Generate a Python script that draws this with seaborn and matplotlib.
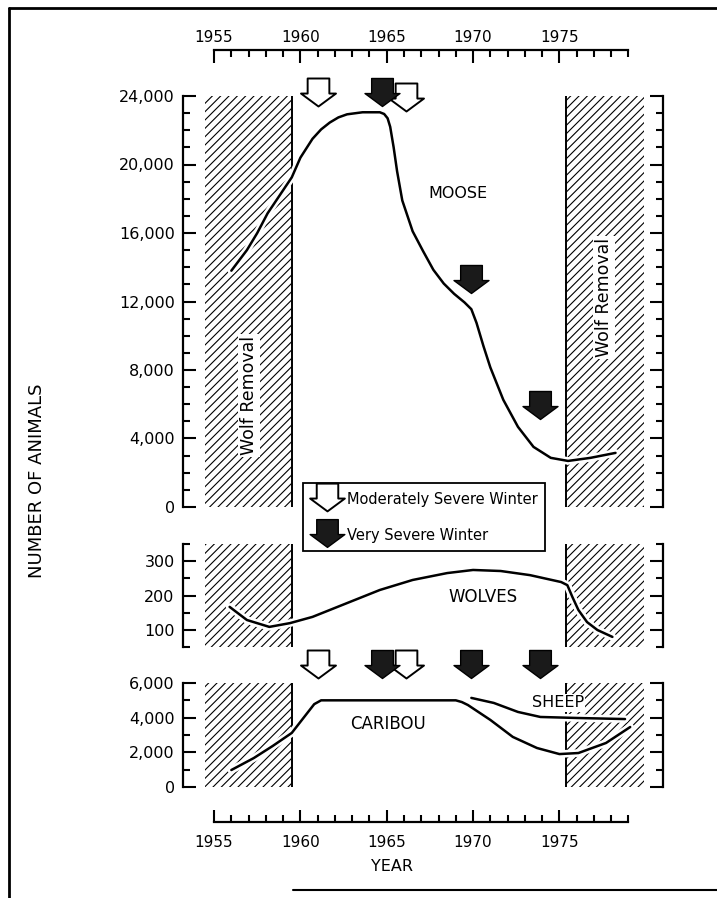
import matplotlib
matplotlib.use("Agg")
import matplotlib.pyplot as plt
import matplotlib.patheffects as pe
import seaborn as sns
from matplotlib.path import Path
from matplotlib.lines import Line2D
from matplotlib.ticker import FixedLocator, MultipleLocator, FuncFormatter

sns.set_theme(style="white", rc={"axes.edgecolor": "black", "xtick.color": "black",
                                 "ytick.color": "black", "text.color": "black",
                                 "axes.labelcolor": "black"})
plt.rcParams["font.family"] = ["DejaVu Sans"]
plt.rcParams["hatch.linewidth"] = 0.8
plt.rcParams["hatch.color"] = "black"

# --- data ---
moose_year = [1956.0, 1956.9, 1957.5, 1958.1, 1958.8, 1959.5, 1960.0, 1960.7, 1961.2,
              1961.7, 1962.2, 1962.7, 1963.6, 1964.6, 1964.85, 1965.05, 1965.2, 1965.4,
              1965.6, 1965.9, 1966.5, 1967.1, 1967.7, 1968.3, 1968.9, 1969.5, 1969.9,
              1970.2, 1970.6, 1971.0, 1971.75, 1972.6, 1973.5, 1974.5, 1975.5, 1976.8,
              1978.25]
moose_count = [13800, 15000, 16000, 17150, 18200, 19250, 20400, 21500, 22050,
               22450, 22750, 22930, 23050, 23050, 22950, 22700, 22200, 21000,
               19600, 17900, 16100, 14950, 13850, 13050, 12450, 11950, 11550,
               10750, 9400, 8150, 6260, 4680, 3510, 2870, 2690, 2870,
               3160]

wolf_year = [1955.9, 1956.9, 1958.2, 1959.4, 1960.7, 1962.7, 1964.6, 1966.5, 1968.5,
             1970.0, 1971.6, 1973.3, 1975.1, 1975.46, 1975.75, 1976.1, 1976.6, 1977.2, 1978.07]
wolf_count = [167, 129, 109, 120, 138, 178, 216, 245, 265,
              274, 271, 259, 239, 230, 196, 158, 123, 100, 80]

caribou_year = [1956.0, 1957.3, 1958.4, 1959.5, 1960.4, 1960.8, 1961.2, 1969.0, 1969.35,
                1969.7, 1971.0, 1972.3, 1973.7, 1975.0, 1976.1, 1977.7, 1979.1]
caribou_count = [980, 1670, 2370, 3120, 4270, 4780, 5000, 5000, 4900,
                 4730, 3870, 2890, 2250, 1900, 1960, 2540, 3460]

sheep_year = [1969.9, 1971.2, 1972.6, 1973.9, 1976.1, 1978.8]
sheep_count = [5140, 4850, 4330, 4040, 3980, 3920]

wolf_removal = [(1954.5, 1959.5), (1975.4, 1979.9)]

moderate_winters = [1961.0, 1966.1]
severe_winters = [1964.7, 1969.9, 1973.9]
moose_moderate_y = [24230, 23970]
moose_severe_y = [24260, 13300, 5960]
caribou_moderate_y = [7070, 7070]
caribou_severe_y = [7120, 7120, 7120]

year_ticks = [1955, 1960, 1965, 1970, 1975]

# --- layout helpers (pixel positions of the original page) ---
W, H = 717, 898
fig = plt.figure(figsize=(W / 100, H / 100), dpi=100)


def box(x0, y0, x1, y1):
    return [x0 / W, 1 - y1 / H, (x1 - x0) / W, (y1 - y0) / H]


XLIM = (1953.2, 1981.0)
LW_SPINE = 1.6

# block arrow marker
arrow = Path([(-0.31, 0.4), (0.31, 0.4), (0.31, -0.03), (0.5, -0.03), (0.0, -0.4),
              (-0.5, -0.03), (-0.31, -0.03), (-0.31, 0.4)],
             [Path.MOVETO] + [Path.LINETO] * 6 + [Path.CLOSEPOLY])
ARROW_S = 25.2 ** 2

ax_m = fig.add_axes(box(183, 96, 663, 507))
ax_w = fig.add_axes(box(183, 543.75, 663, 647.25))
ax_c = fig.add_axes(box(183, 683, 663, 787))

panels = [
    (ax_m, (0, 24000), 4000, 1000),
    (ax_w, (50, 350), 100, 50),
    (ax_c, (0, 6000), 2000, 1000),
]
for ax, ylim, major, minor in panels:
    ax.set_xlim(XLIM)
    ax.set_ylim(ylim)
    ax.set_facecolor("none")
    for s in ("top", "bottom"):
        ax.spines[s].set_visible(False)
    for s in ("left", "right"):
        ax.spines[s].set_linewidth(LW_SPINE)
        ax.spines[s].set_color("black")
    ax.set_xticks([])
    ax.yaxis.set_major_locator(MultipleLocator(major))
    ax.yaxis.set_minor_locator(MultipleLocator(minor))
    ax.yaxis.set_major_formatter(FuncFormatter(lambda v, p: f"{int(v):,}"))
    ax.tick_params(axis="y", which="both", direction="in", left=True, right=True,
                   labelleft=True, labelright=False, width=1.5, labelsize=11.5, pad=6)
    ax.tick_params(axis="y", which="major", length=9.5)
    ax.tick_params(axis="y", which="minor", length=5)
    ax.set_xlabel("")
    ax.set_ylabel("")
    ax.grid(False)

    # hatched wolf-removal periods
    for i, (a, b) in enumerate(wolf_removal):
        ax.axvspan(a, b, facecolor="none", edgecolor="black", hatch="////",
                   linewidth=0, zorder=1)
        ax.axvline(b if i == 0 else a, color="black", lw=1.4, zorder=1.5)

halo = [pe.Stroke(linewidth=5.5, foreground="white"), pe.Normal()]

sns.lineplot(x=moose_year, y=moose_count, ax=ax_m, color="black", lw=1.8,
             sort=False, estimator=None, path_effects=halo, zorder=3)
sns.lineplot(x=wolf_year, y=wolf_count, ax=ax_w, color="black", lw=1.8,
             sort=False, estimator=None, path_effects=halo, zorder=3)
sns.lineplot(x=sheep_year, y=sheep_count, ax=ax_c, color="black", lw=1.8,
             sort=False, estimator=None, path_effects=halo, zorder=3)
sns.lineplot(x=caribou_year, y=caribou_count, ax=ax_c, color="black", lw=1.8,
             sort=False, estimator=None, path_effects=halo, zorder=3)

# winter arrows
for ax, ym, ys in [(ax_m, moose_moderate_y, moose_severe_y),
                   (ax_c, caribou_moderate_y, caribou_severe_y)]:
    sns.scatterplot(x=moderate_winters, y=ym, ax=ax, marker=arrow, s=ARROW_S,
                    color="white", edgecolor="black", linewidth=1.4,
                    clip_on=False, zorder=5)
    sns.scatterplot(x=severe_winters, y=ys, ax=ax, marker=arrow, s=ARROW_S,
                    color="#1a1a1a", edgecolor="black", linewidth=1.0,
                    clip_on=False, zorder=6)

# labels inside panels
ax_m.text(1969.1, 18330, "MOOSE", ha="center", va="center", fontsize=11.5, zorder=4)
ax_w.text(1970.6, 196, "WOLVES", ha="center", va="center", fontsize=12, zorder=4)
ax_c.text(1965.1, 3640, "CARIBOU", ha="center", va="center", fontsize=12, zorder=4)
ax_c.text(1974.9, 4850, "SHEEP", ha="center", va="center", fontsize=11.5, zorder=4,
          bbox=dict(facecolor="white", edgecolor="none", pad=1))
for xx, yy in [(1957.03, 6520), (1977.6, 12250)]:
    ax_m.text(xx, yy, "Wolf Removal", rotation=90, ha="center", va="center",
              fontsize=12.5, zorder=4,
              bbox=dict(facecolor="white", edgecolor="none", pad=1.5))

# year axes (top and bottom)
ax_t = fig.add_axes(box(183, 50, 663, 60))
ax_b = fig.add_axes(box(183, 812, 663, 822))
for ax, side in [(ax_t, "top"), (ax_b, "bottom")]:
    ax.set_xlim(XLIM)
    ax.set_facecolor("none")
    ax.set_yticks([])
    for s in ("top", "bottom", "left", "right"):
        ax.spines[s].set_visible(s == side)
    ax.spines[side].set_linewidth(LW_SPINE)
    ax.spines[side].set_bounds(1955, 1979)
    ax.xaxis.set_major_locator(FixedLocator(year_ticks))
    ax.xaxis.set_minor_locator(FixedLocator(list(range(1955, 1980))))
    ax.tick_params(axis="x", which="both", direction="in", width=1.5, labelsize=11,
                   top=(side == "top"), labeltop=(side == "top"),
                   bottom=(side == "bottom"), labelbottom=(side == "bottom"),
                   pad=3.5 if side == "top" else 9.4)
    ax.tick_params(axis="x", which="major", length=9)
    ax.tick_params(axis="x", which="minor", length=5)
    ax.grid(False)

ax_b.set_xlabel("YEAR", fontsize=11.5)
ax_b.xaxis.set_label_coords((392 - 183) / 480, -3.7)

fig.text(37 / W, 1 - 481 / H, "NUMBER OF ANIMALS", rotation=90, ha="center",
         va="center", fontsize=13)

# legend
handles = [
    Line2D([], [], marker=arrow, markersize=25, markerfacecolor="white",
           markeredgecolor="black", markeredgewidth=1.4, linestyle="none"),
    Line2D([], [], marker=arrow, markersize=25, markerfacecolor="#1a1a1a",
           markeredgecolor="black", markeredgewidth=1.0, linestyle="none"),
]
leg = fig.legend(handles, ["Moderately Severe Winter", "Very Severe Winter"],
                 loc="upper left", bbox_to_anchor=(303 / W, 1 - 483 / H),
                 frameon=True, fancybox=False, edgecolor="black", framealpha=1,
                 borderaxespad=0, fontsize=10.5, handlelength=2.4, handleheight=1.59,
                 handletextpad=0.2, borderpad=0.45, labelspacing=1.2)
leg.get_frame().set_linewidth(1.3)

# page frame
fig.add_artist(Line2D([9 / W, 9 / W], [0, 1 - 8 / H], transform=fig.transFigure,
                      color="black", lw=2))
fig.add_artist(Line2D([9 / W, 1], [1 - 8 / H, 1 - 8 / H], transform=fig.transFigure,
                      color="black", lw=2))
fig.add_artist(Line2D([293 / W, 1], [1 - 890 / H, 1 - 890 / H], transform=fig.transFigure,
                      color="black", lw=1.5))

fig.savefig("out.png", dpi=100)
